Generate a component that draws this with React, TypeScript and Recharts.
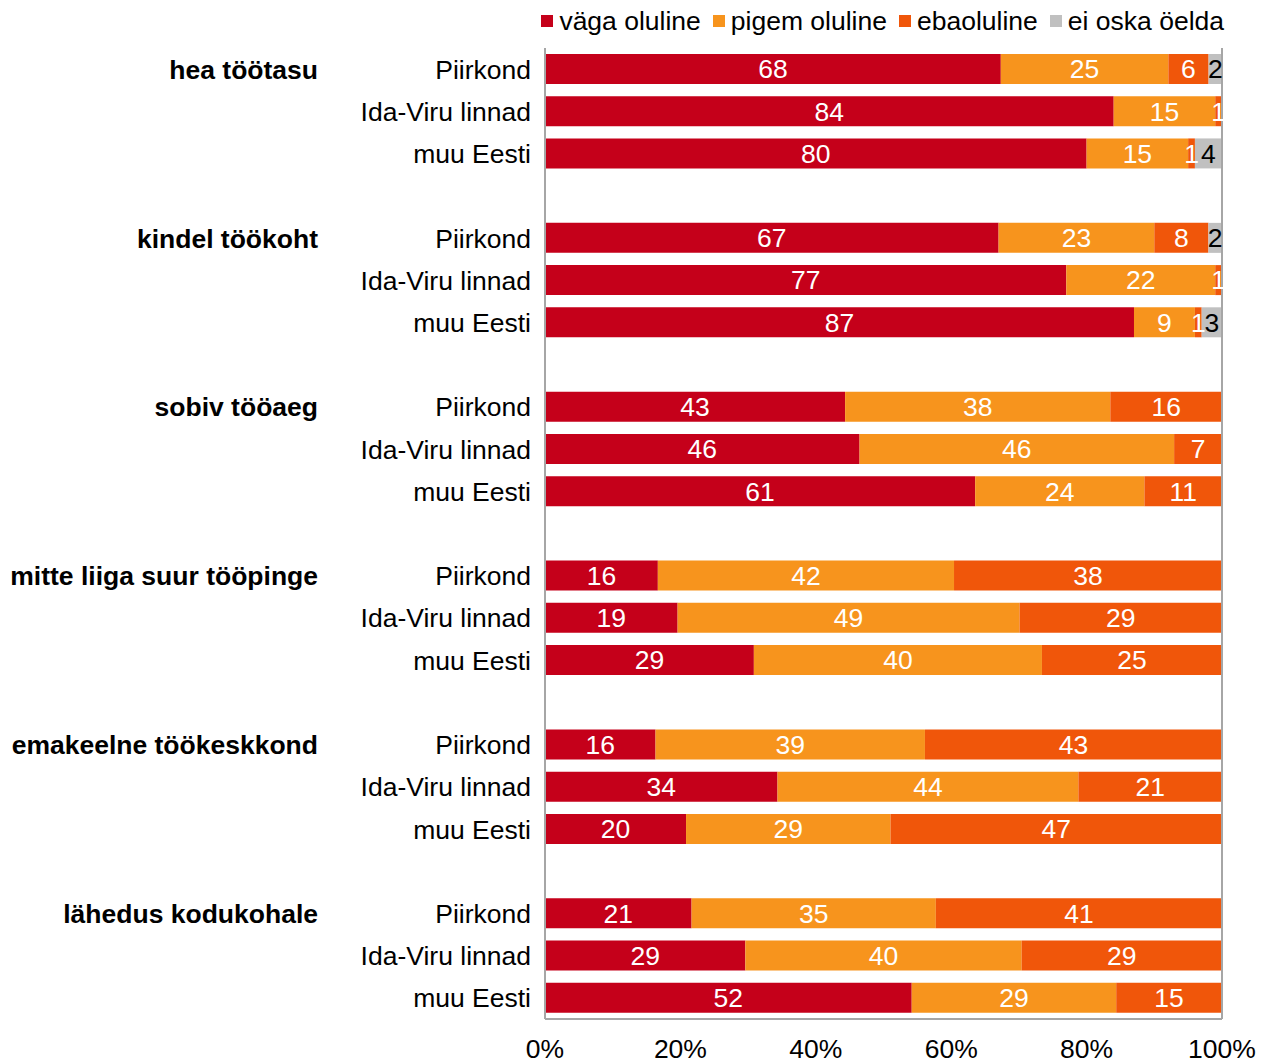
import { Bar, BarChart, LabelList, Legend, ReferenceLine, XAxis, YAxis } from 'recharts'

const font = '"Liberation Sans", Arial, sans-serif'
const fs = 26.5

const groups = [
  'hea töötasu',
  'kindel töökoht',
  'sobiv tööaeg',
  'mitte liiga suur tööpinge',
  'emakeelne töökeskkond',
  'lähedus kodukohale',
]
const regions = ['Piirkond', 'Ida-Viru linnad', 'muu Eesti']

const seriesNames = ['väga oluline', 'pigem oluline', 'ebaoluline', 'ei oska öelda']
const colors = ['#C5001A', '#F7941D', '#F0560A', '#C0C0C0']
const labelColors = ['#ffffff', '#ffffff', '#ffffff', '#000000']

// one inner list per group: Piirkond, Ida-Viru linnad, muu Eesti
const vagaOluline = [[68, 84, 80], [67, 77, 87], [43, 46, 61], [16, 19, 29], [16, 34, 20], [21, 29, 52]]
const pigemOluline = [[25, 15, 15], [23, 22, 9], [38, 46, 24], [42, 49, 40], [39, 44, 29], [35, 40, 29]]
const ebaoluline = [[6, 1, 1], [8, 1, 1], [16, 7, 11], [38, 29, 25], [43, 21, 47], [41, 29, 15]]
const eiOska = [[2, 0, 4], [2, 0, 3], [0, 0, 0], [0, 0, 0], [0, 0, 0], [0, 0, 0]]

const xTicks = [0, 0.2, 0.4, 0.6, 0.8, 1]

type Row = {
  key: string
  group: string
  region: string
  v0: number | null
  v1: number | null
  v2: number | null
  v3: number | null
}

const rows: Row[] = []
groups.forEach((g, gi) => {
  regions.forEach((r, ri) => {
    rows.push({
      key: `${gi}-${ri}`,
      group: ri === 0 ? g : '',
      region: r,
      v0: vagaOluline[gi][ri],
      v1: pigemOluline[gi][ri],
      v2: ebaoluline[gi][ri],
      v3: eiOska[gi][ri],
    })
  })
  if (gi < groups.length - 1) {
    rows.push({ key: `gap-${gi}`, group: '', region: '', v0: null, v1: null, v2: null, v3: null })
  }
})

const border = '#A6A6A6'

function YTick(props: any) {
  const { x, y, payload } = props
  const row = rows.find((r) => r.key === payload.value)
  if (!row || !row.region) return null
  return (
    <g>
      <text x={x} y={y} dy="0.36em" textAnchor="end" fontSize={fs} fill="#000" fontFamily={font}>
        {row.region}
      </text>
      {row.group && (
        <text x={310} y={y} dy="0.36em" textAnchor="end" fontSize={fs} fontWeight="bold" fill="#000" fontFamily={font}>
          {row.group}
        </text>
      )}
    </g>
  )
}

function LegendContent() {
  return (
    <div
      style={{
        display: 'flex',
        justifyContent: 'flex-end',
        alignItems: 'center',
        height: 32,
        paddingRight: 36,
        fontSize: fs,
        fontFamily: font,
        color: '#000',
      }}
    >
      {seriesNames.map((n, i) => (
        <span key={n} style={{ display: 'flex', alignItems: 'center', marginLeft: i ? 12 : 0 }}>
          <span style={{ width: 12, height: 12, background: colors[i], marginRight: 6, display: 'inline-block' }} />
          {n}
        </span>
      ))}
    </div>
  )
}

export default function App() {
  return (
    <BarChart
      width={1252}
      height={1056}
      data={rows}
      layout="vertical"
      stackOffset="expand"
      margin={{ top: 8, right: 38, bottom: 0, left: 0 }}
      style={{ fontFamily: font }}
    >
      <Legend
        verticalAlign="top"
        align="right"
        content={<LegendContent />}
        width={1252}
        wrapperStyle={{ top: -3, left: 0 }}
      />
      <XAxis
        type="number"
        domain={[0, 1]}
        ticks={xTicks}
        tickFormatter={(v: number) => `${Math.round(v * 100)}%`}
        tick={{ fontSize: fs, fill: '#000' }}
        tickLine={false}
        tickSize={0}
        tickMargin={20}
        height={45}
        axisLine={{ stroke: border, strokeWidth: 2 }}
        interval={0}
      />
      <XAxis
        xAxisId="top"
        orientation="top"
        type="number"
        domain={[0, 1]}
        tick={false}
        tickLine={false}
        height={0}
        axisLine={{ stroke: border, strokeWidth: 2 }}
      />
      <YAxis
        type="category"
        dataKey="key"
        width={537}
        tick={<YTick />}
        tickLine={false}
        tickSize={0}
        tickMargin={14}
        interval={0}
        axisLine={{ stroke: border, strokeWidth: 2 }}
      />
      <ReferenceLine x={1} stroke={border} strokeWidth={2} />
      {['v0', 'v1', 'v2', 'v3'].map((k, i) => (
        <Bar key={k} dataKey={k} name={seriesNames[i]} stackId="a" fill={colors[i]} barSize={30} isAnimationActive={false}>
          <LabelList
            dataKey={k}
            position="center"
            formatter={(v: any) => (v ? v : '')}
            fill={labelColors[i]}
            fontSize={fs}
            fontFamily={font}
          />
        </Bar>
      ))}
    </BarChart>
  )
}
